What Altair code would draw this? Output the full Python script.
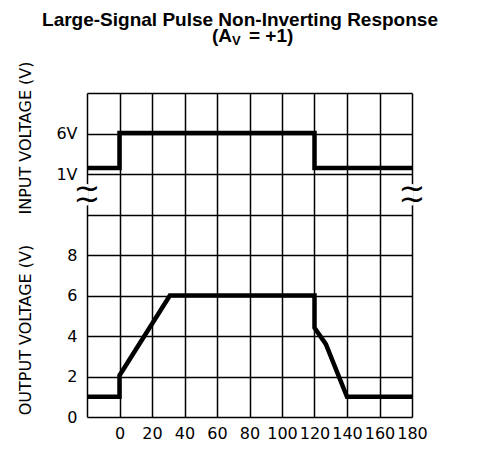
import altair as alt
import pandas as pd

# ---- data ----
time_in = [-20, 0, 0, 120, 120, 180]
volt_in = [1, 1, 6, 6, 1, 1]
time_out = [-20, 0, 0, 31, 120, 120, 127, 140, 180]
volt_out = [1, 1, 2.05, 6, 6, 4.4, 3.6, 1, 1]
x_ticks = [-20, 0, 20, 40, 60, 80, 100, 120, 140, 160, 180]
y_ticks = [0, 2, 4, 6, 8, 10, 12, 14, 16]
title_line1 = "Large-Signal Pulse Non-Inverting Response"
input_title = "INPUT VOLTAGE (V)"
output_title = "OUTPUT VOLTAGE (V)"
break_low, break_high = 10.45, 11.5
tilde_y = [11.25, 10.7]

SANS = "DejaVu Sans, sans-serif"
TITLE_FONT = "Liberation Sans, Arial, sans-serif"

df_in = pd.DataFrame({"t": time_in, "v": volt_in, "i": range(len(time_in))})
df_out = pd.DataFrame({"t": time_out, "v": volt_out, "i": range(len(time_out))})

xscale = alt.Scale(domain=[-20, 180], nice=False, zero=False)
yscale = alt.Scale(domain=[0, 16], nice=False)

xaxis = alt.Axis(values=x_ticks, title=None, grid=True, ticks=False, domain=False,
                 labelExpr="datum.value < 0 ? '' : datum.label",
                 labelFont=SANS, labelFontSize=16, labelColor="black",
                 labelPadding=8, gridColor="black", gridWidth=1.5, gridOpacity=1,
                 labelFlush=False, labelOverlap=False)
yaxis = alt.Axis(values=y_ticks, title=None, grid=True, ticks=False, domain=False,
                 labelExpr="datum.value == 12 ? '1V' : datum.value == 14 ? '6V' : datum.value <= 8 ? datum.label : ''",
                 labelFont=SANS, labelFontSize=16, labelColor="black",
                 labelPadding=10, gridColor="black", gridWidth=1.5, gridOpacity=1,
                 labelFlush=False, labelOverlap=False)

out_line = alt.Chart(df_out).mark_line(color="black", strokeWidth=4.5).encode(
    x=alt.X("t:Q", scale=xscale, axis=xaxis),
    y=alt.Y("v:Q", scale=yscale, axis=yaxis),
    order="i:O",
)

# break in the border lines
brk = pd.DataFrame({"x1": [-21, 179], "x2": [-19, 181], "y1": [break_low] * 2, "y2": [break_high] * 2})
breaks = alt.Chart(brk).mark_rect(color="white").encode(
    x=alt.X("x1:Q", scale=xscale, axis=xaxis), x2="x2:Q",
    y=alt.Y("y1:Q", scale=yscale, axis=yaxis), y2="y2:Q",
)
tl = pd.DataFrame({"x": [-20, -20, 180, 180], "y": tilde_y + tilde_y})
tildes = alt.Chart(tl).mark_text(text="~", fontSize=32, font="DejaVu Sans", baseline="middle", color="black").encode(
    x=alt.X("x:Q", scale=xscale, axis=xaxis), y=alt.Y("y:Q", scale=yscale, axis=yaxis)
)

in_line = alt.Chart(df_in).mark_line(color="black", strokeWidth=4.5).encode(
    x=alt.X("t:Q", scale=xscale, axis=xaxis),
    y=alt.Y("v:Q", scale=alt.Scale(domain=[-34.57, 11.71], nice=False, zero=False), axis=None),
    order="i:O",
)

dummy = pd.DataFrame({"a": [0]})
def txt(text, x, y, **kw):
    return alt.Chart(dummy).mark_text(text=text, color="black", **kw).encode(
        x=alt.value(x), y=alt.value(y))

annots = [
    txt(title_line1, 153, -67, font=TITLE_FONT, fontSize=19, fontWeight="bold", align="center", baseline="alphabetic"),
    txt("(A", 145, -51, font=TITLE_FONT, fontSize=19, fontWeight="bold", align="right", baseline="alphabetic"),
    txt("V", 145, -48, font=TITLE_FONT, fontSize=13, fontWeight="bold", align="left", baseline="alphabetic"),
    txt("= +1)", 162, -51, font=TITLE_FONT, fontSize=19, fontWeight="bold", align="left", baseline="alphabetic"),
    txt(input_title, -61, 45, font=SANS, fontSize=16, angle=270, align="center", baseline="middle"),
    txt(output_title, -61, 237, font=SANS, fontSize=16, angle=270, align="center", baseline="middle"),
]

main = alt.layer(out_line, breaks, tildes)

chart = alt.layer(main, in_line, *annots).resolve_scale(y="independent", x="shared").properties(
    width=325, height=324,
    autosize=alt.AutoSizeParams(type="none"),
    padding={"left": 79, "top": 85, "right": 61, "bottom": 24},
).configure_view(stroke=None)

chart.save("out.html", embed_options={"renderer": "svg", "actions": False})
